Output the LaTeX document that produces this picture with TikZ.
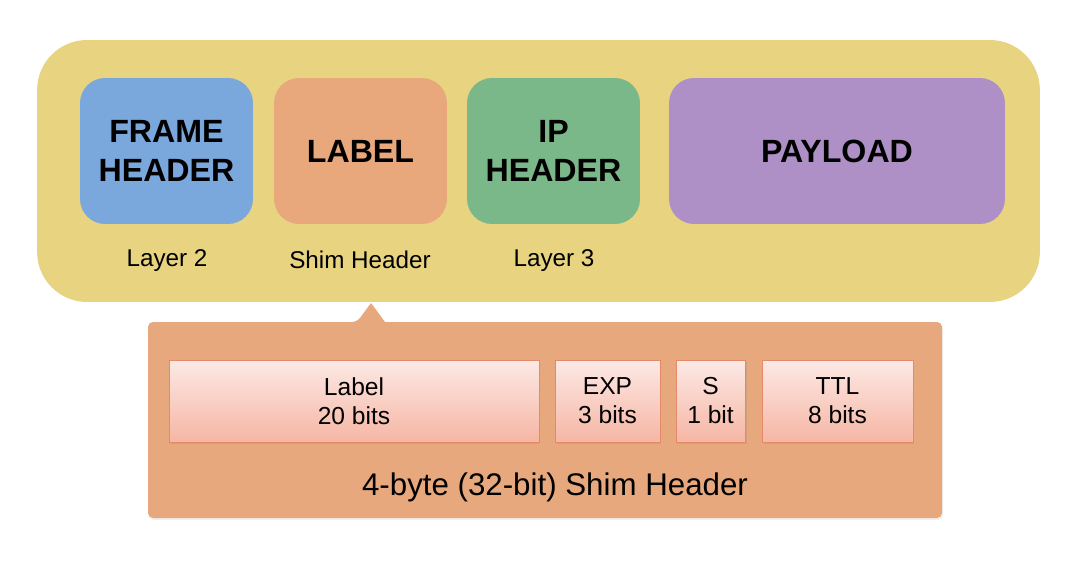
\documentclass[tikz,border=0pt]{standalone}
\usepackage{fontspec}
\setmainfont{Liberation Sans}
\usetikzlibrary{shadows}
\definecolor{frameyellow}{HTML}{E8D480}
\definecolor{headblue}{HTML}{7AA7DC}
\definecolor{labelorange}{HTML}{E8A87C}
\definecolor{ipgreen}{HTML}{7AB88A}
\definecolor{payloadpurple}{HTML}{AE90C6}
\definecolor{shimorange}{HTML}{E6A87C}
\definecolor{bittop}{HTML}{FCE9E5}
\definecolor{bitbottom}{HTML}{F6B6A4}
\definecolor{bitline}{HTML}{E48A68}
\tikzset{
  part/.style={rounded corners=0.5cm, minimum height=2.92cm, minimum width=3.46cm, inner sep=0pt,
    align=center, font=\bfseries\fontsize{18.3}{22}\selectfont},
  layer/.style={inner sep=0pt, font=\fontsize{13.8}{16}\selectfont},
  bitbox/.style={draw=bitline, line width=0.4pt, top color=bittop, bottom color=bitbottom,
    minimum height=1.64cm, inner sep=0pt, align=center, font=\fontsize{14}{16.5}\selectfont,
    drop shadow={opacity=0.2, shadow xshift=0.03cm, shadow yshift=-0.04cm}}
}
\begin{document}
\begin{tikzpicture}[x=0.02cm, y=-0.02cm]
  \fill[white] (0,0) rectangle (1092,564);
  \useasboundingbox (0,0) rectangle (1092,564);
  \node[fill=frameyellow, rounded corners=1cm, minimum width=20.06cm, minimum height=5.24cm] (packet) at (538.5,171) {};
  \node[part, fill=headblue] (frame) at (166.5,151) {FRAME\\HEADER};
  \node[part, fill=labelorange] (label) at (360.5,151) {LABEL};
  \node[part, fill=ipgreen] (ip) at (553.5,151) {IP\\HEADER};
  \node[part, fill=payloadpurple, minimum width=6.72cm] (payload) at (837,151) {PAYLOAD};
  \node[layer] (l2) at (167,261) {Layer 2};
  \node[layer] (shim) at (360,260) {Shim Header};
  \node[layer] (l3) at (554,261) {Layer 3};
  \fill[black, opacity=0.06, rounded corners=0.1cm] (149,324) rectangle (943,520);
  \fill[shimorange, rounded corners=0.1cm] (148,518) -- (148,322) -- (357,322) [sharp corners] -- (371,303) -- (385,322) [rounded corners=0.1cm] -- (942,322) -- (942,518) -- cycle;
  \node[bitbox, minimum width=7.4cm] (lbits) at (354,401) {Label\\20 bits};
  \node[bitbox, minimum width=2.1cm] (exp) at (607.5,401) {EXP\\3 bits};
  \node[bitbox, minimum width=1.38cm] (sbit) at (710.5,401) {S\\1 bit};
  \node[bitbox, minimum width=3.02cm] (ttl) at (837.5,401) {TTL\\8 bits};
  \node[inner sep=0pt, font=\fontsize{17.8}{20}\selectfont] (caption) at (555,487) {4-byte (32-bit) Shim Header};
\end{tikzpicture}
\end{document}
